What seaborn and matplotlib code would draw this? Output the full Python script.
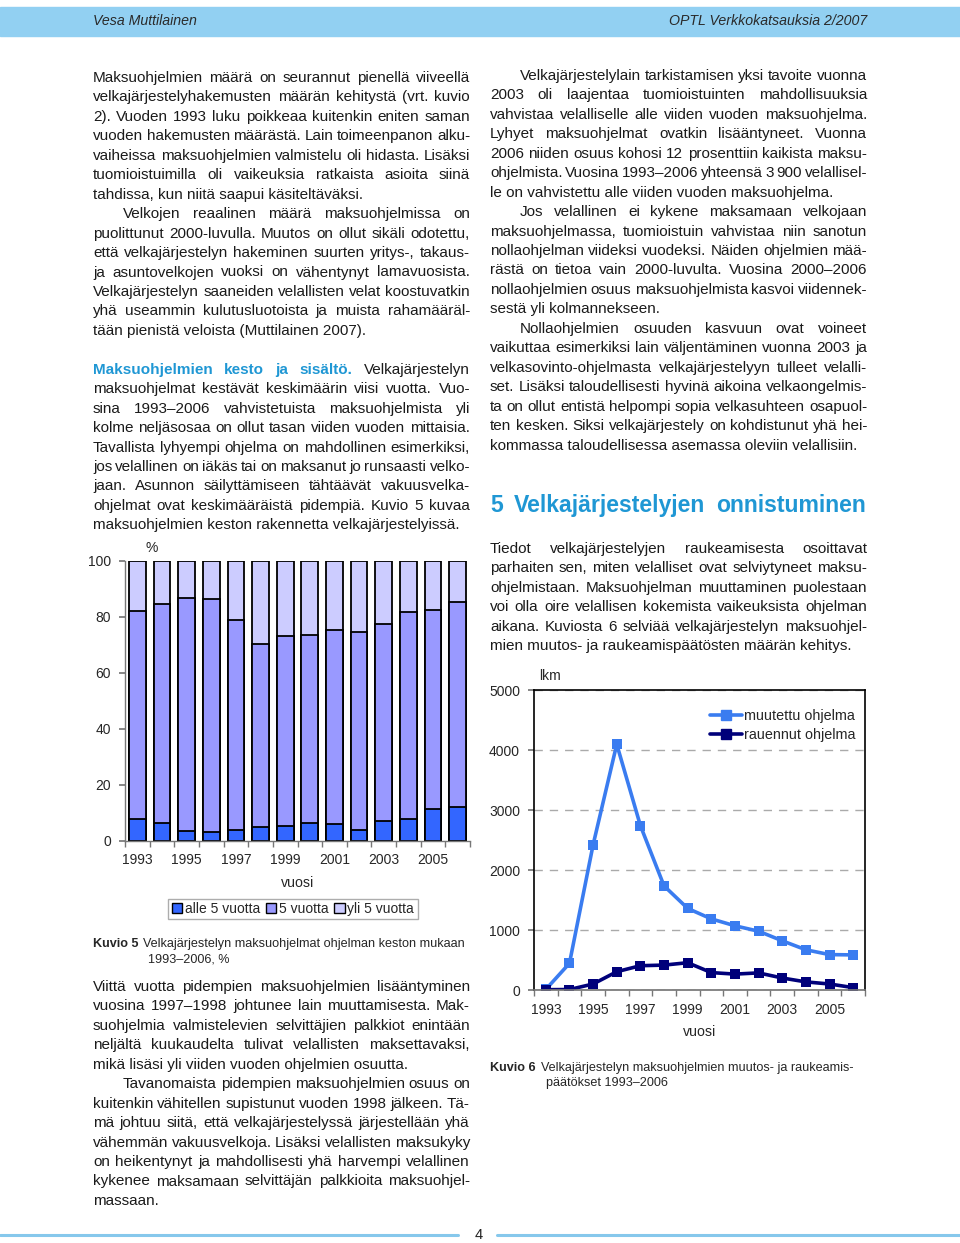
import numpy as np
import pandas as pd
import seaborn as sns
import matplotlib.pyplot as plt
from matplotlib.patches import Rectangle, Patch
from matplotlib.lines import Line2D

# Kuvio 5: maksuohjelmien kesto, % (luettu kuvasta)
years = [str(y) for y in range(1993, 2007)]
alle5 = [7.7, 6.3, 3.7, 3.1, 3.8, 5.1, 5.5, 6.3, 6.1, 3.8, 7.0, 7.8, 11.4, 12.0]
viisi = [74.2, 78.2, 82.9, 83.2, 75.2, 65.1, 67.7, 67.2, 69.0, 70.9, 70.5, 73.8, 71.0, 73.1]
yli5 = [18.1, 15.5, 13.4, 13.7, 21.0, 29.8, 26.8, 26.5, 24.9, 25.3, 22.5, 18.4, 17.6, 14.9]
bar_labels = ['alle 5 vuotta', '5 vuotta', 'yli 5 vuotta']

# Kuvio 6: muutetut ja rauenneet ohjelmat, lkm
line_years = list(range(1993, 2007))
muutettu = [10, 445, 2420, 4095, 2740, 1735, 1360, 1185, 1070, 980, 820, 670, 590, 585]
rauennut = [5, 8, 100, 305, 405, 415, 455, 290, 265, 285, 200, 135, 100, 40]
line_labels = ['muutettu ohjelma', 'rauennut ohjelma']

left_par1 = ["Maksuohjelmien määrä on seurannut pienellä viiveellä",
             "velkajärjestelyhakemusten määrän kehitystä (vrt. kuvio",
             "2). Vuoden 1993 luku poikkeaa kuitenkin eniten saman",
             "vuoden hakemusten määrästä. Lain toimeenpanon alku-",
             "vaiheissa maksuohjelmien valmistelu oli hidasta. Lisäksi",
             "tuomioistuimilla oli vaikeuksia ratkaista asioita siinä",
             "tahdissa, kun niitä saapui käsiteltäväksi."]
left_par2 = ["Velkojen reaalinen määrä maksuohjelmissa on",
             "puolittunut 2000-luvulla. Muutos on ollut sikäli odotettu,",
             "että velkajärjestelyn hakeminen suurten yritys-, takaus-",
             "ja asuntovelkojen vuoksi on vähentynyt lamavuosista.",
             "Velkajärjestelyn saaneiden velallisten velat koostuvatkin",
             "yhä useammin kulutusluotoista ja muista rahamääräl-",
             "tään pienistä veloista (Muttilainen 2007)."]
left_par3 = ["Maksuohjelmien kesto ja sisältö. Velkajärjestelyn",
             "maksuohjelmat kestävät keskimäärin viisi vuotta. Vuo-",
             "sina 1993–2006 vahvistetuista maksuohjelmista yli",
             "kolme neljäsosaa on ollut tasan viiden vuoden mittaisia.",
             "Tavallista lyhyempi ohjelma on mahdollinen esimerkiksi,",
             "jos velallinen on iäkäs tai on maksanut jo runsaasti velko-",
             "jaan. Asunnon säilyttämiseen tähtäävät vakuusvelka-",
             "ohjelmat ovat keskimääräistä pidempiä. Kuvio 5 kuvaa",
             "maksuohjelmien keston rakennetta velkajärjestelyissä."]
left_par4 = ["Viittä vuotta pidempien maksuohjelmien lisääntyminen",
             "vuosina 1997–1998 johtunee lain muuttamisesta. Mak-",
             "suohjelmia valmistelevien selvittäjien palkkiot enintään",
             "neljältä kuukaudelta tulivat velallisten maksettavaksi,",
             "mikä lisäsi yli viiden vuoden ohjelmien osuutta."]
left_par5 = ["Tavanomaista pidempien maksuohjelmien osuus on",
             "kuitenkin vähitellen supistunut vuoden 1998 jälkeen. Tä-",
             "mä johtuu siitä, että velkajärjestelyssä järjestellään yhä",
             "vähemmän vakuusvelkoja. Lisäksi velallisten maksukyky",
             "on heikentynyt ja mahdollisesti yhä harvempi velallinen",
             "kykenee maksamaan selvittäjän palkkioita maksuohjel-",
             "massaan."]
right_par1 = ["Velkajärjestelylain tarkistamisen yksi tavoite vuonna",
              "2003 oli laajentaa tuomioistuinten mahdollisuuksia",
              "vahvistaa velalliselle alle viiden vuoden maksuohjelma.",
              "Lyhyet maksuohjelmat ovatkin lisääntyneet. Vuonna",
              "2006 niiden osuus kohosi 12 prosenttiin kaikista maksu-",
              "ohjelmista. Vuosina 1993–2006 yhteensä 3 900 velallisel-",
              "le on vahvistettu alle viiden vuoden maksuohjelma."]
right_par2 = ["Jos velallinen ei kykene maksamaan velkojaan",
              "maksuohjelmassa, tuomioistuin vahvistaa niin sanotun",
              "nollaohjelman viideksi vuodeksi. Näiden ohjelmien mää-",
              "rästä on tietoa vain 2000-luvulta. Vuosina 2000–2006",
              "nollaohjelmien osuus maksuohjelmista kasvoi viidennek-",
              "sestä yli kolmannekseen."]
right_par3 = ["Nollaohjelmien osuuden kasvuun ovat voineet",
              "vaikuttaa esimerkiksi lain väljentäminen vuonna 2003 ja",
              "velkasovinto-ohjelmasta velkajärjestelyyn tulleet velalli-",
              "set. Lisäksi taloudellisesti hyvinä aikoina velkaongelmis-",
              "ta on ollut entistä helpompi sopia velkasuhteen osapuol-",
              "ten kesken. Siksi velkajärjestely on kohdistunut yhä hei-",
              "kommassa taloudellisessa asemassa oleviin velallisiin."]
right_par4 = ["Tiedot velkajärjestelyjen raukeamisesta osoittavat",
              "parhaiten sen, miten velalliset ovat selviytyneet maksu-",
              "ohjelmistaan. Maksuohjelman muuttaminen puolestaan",
              "voi olla oire velallisen kokemista vaikeuksista ohjelman",
              "aikana. Kuviosta 6 selviää velkajärjestelyn maksuohjel-",
              "mien muutos- ja raukeamispäätösten määrän kehitys."]

W, H = 960, 1243
BLUE_HEAD = '#1f97d4'
TEXT_C = '#1a1a1a'
BODY = 10.95

sns.set_theme(style='white')
plt.rcParams['font.family'] = ['Liberation Sans', 'DejaVu Sans']

fig = plt.figure(figsize=(W / 100, H / 100), dpi=100)
renderer = fig.canvas.get_renderer()


def fx(x):
    return x / W


def fy(y):
    return 1 - y / H


def put_line(x0, x1, y, line, justify, bold_prefix=0, size=BODY, weight='normal', color=TEXT_C):
    words = line.split(' ')
    if not justify and bold_prefix == 0:
        fig.text(fx(x0), fy(y), line, fontsize=size, color=color, weight=weight, va='baseline')
        return
    texts = []
    for i, w in enumerate(words):
        wt, c = ('bold', BLUE_HEAD) if i < bold_prefix else (weight, color)
        texts.append(fig.text(0, fy(y), w, fontsize=size, weight=wt, color=c, va='baseline'))
    widths = [t.get_window_extent(renderer).width for t in texts]
    if justify:
        gap = max((x1 - x0 - sum(widths)) / (len(words) - 1), 1.5)
    else:
        gap = size * 100 / 72 * 0.28
    x = x0
    for t, wd in zip(texts, widths):
        t.set_x(fx(x))
        x += wd + gap


def put_par(lines, x0, x1, y0, indent=False, bold_prefix=0, step=19.45):
    for i, line in enumerate(lines):
        xs = x0 + (30 if (indent and i == 0) else 0)
        put_line(xs, x1, y0 + i * step + 5, line, justify=(i < len(lines) - 1),
                 bold_prefix=bold_prefix if i == 0 else 0)


# header band
fig.patches.append(Rectangle((0, fy(36)), 1, 29 / H, transform=fig.transFigure,
                             color='#92d0f2', zorder=0))
fig.text(fx(93), fy(21), 'Vesa Muttilainen', fontsize=10.2, style='italic',
         color='#2a2a2a', va='center')
fig.text(fx(867), fy(21), 'OPTL Verkkokatsauksia 2/2007', fontsize=10.2, style='italic',
         color='#2a2a2a', va='center', ha='right')

# body text
step = 19.45
put_par(left_par1, 93, 470, 77)
put_par(left_par2, 93, 470, 77 + 7 * step, indent=True)
put_par(left_par3, 93, 470, 77 + 15 * step, bold_prefix=4)
put_par(left_par4, 93, 470, 986)
put_par(left_par5, 93, 470, 986 + 5 * step, indent=True)
put_par(right_par1, 490, 867, 75, indent=True)
put_par(right_par2, 490, 867, 75 + 7 * step, indent=True)
put_par(right_par3, 490, 867, 75 + 13 * step, indent=True)
put_par(right_par4, 490, 867, 548)

# section heading
put_line(490, 866, 512, '5 Velkajärjestelyjen onnistuminen', justify=True,
         size=16.6, weight='bold', color=BLUE_HEAD)

# ---------- Kuvio 5 ----------
ax1 = fig.add_axes([fx(125), fy(841), 345 / W, 280.3 / H])
cum_mid = [a + b for a, b in zip(alle5, viisi)]
total = [a + b + c for a, b, c in zip(alle5, viisi, yli5)]
bar_cols = ['#3366ff', '#9999ff', '#ccccff']
for vals, col in zip([total, cum_mid, alle5], bar_cols[::-1]):
    sns.barplot(x=years, y=vals, color=col, edgecolor='black', linewidth=1.3,
                width=0.68, saturation=1, ax=ax1)
ax1.set_ylim(0, 100)
ax1.set_xlim(-0.5, 13.5)
ax1.set_yticks(range(0, 101, 20))
ax1.set_xticks(range(0, 14, 2))
ax1.set_xticklabels(years[::2])
ax1.set_xticks(np.arange(-0.5, 14, 1), minor=True)
ax1.tick_params(axis='x', which='major', length=0, pad=9, labelsize=10)
ax1.tick_params(axis='x', which='minor', length=4, color='#777777', bottom=True)
ax1.tick_params(axis='y', length=4, color='#777777', left=True, pad=6, labelsize=10)
for s in ['top', 'right']:
    ax1.spines[s].set_visible(False)
for s in ['left', 'bottom']:
    ax1.spines[s].set_color('#777777')
    ax1.spines[s].set_linewidth(1)
ax1.set_xlabel('vuosi', fontsize=10.2, labelpad=6)
ax1.set_ylabel('')
ax1.text(0.058, 1.045, '%', transform=ax1.transAxes, fontsize=10, va='center')
handles = [Patch(facecolor=c, edgecolor='black', linewidth=1) for c in bar_cols]
fig.legend(handles, bar_labels, loc='center', bbox_to_anchor=(fx(293), fy(909)),
           ncol=3, fontsize=10, frameon=True, fancybox=False, edgecolor='#999999',
           handlelength=0.75, handleheight=0.75, handletextpad=0.2, columnspacing=0.4,
           borderpad=0.25, borderaxespad=0)
fig.text(fx(93), fy(947), 'Kuvio 5', fontsize=9.1, weight='bold', va='baseline')
fig.text(fx(143), fy(947), 'Velkajärjestelyn maksuohjelmat ohjelman keston mukaan',
         fontsize=9.1, va='baseline')
fig.text(fx(148), fy(962), '1993–2006, %', fontsize=9.1, va='baseline')

# ---------- Kuvio 6 ----------
ax2 = fig.add_axes([fx(534), fy(990), 331 / W, 300 / H])
df = pd.DataFrame({'vuosi': line_years * 2,
                   'lkm': muutettu + rauennut,
                   'sarja': [line_labels[0]] * 14 + [line_labels[1]] * 14})
line_cols = ['#3a7cf0', '#00007a']
sns.lineplot(data=df, x='vuosi', y='lkm', hue='sarja', palette=line_cols,
             marker='s', markersize=7, markeredgewidth=0, linewidth=2.6, ax=ax2)
ax2.set_xlim(1992.5, 2006.5)
ax2.set_ylim(0, 5000)
ax2.set_yticks(range(0, 5001, 1000))
ax2.set_xticks(range(1993, 2006, 2))
ax2.set_xticks(np.arange(1992.5, 2007, 1), minor=True)
ax2.tick_params(axis='x', which='major', length=0, pad=9, labelsize=10)
ax2.tick_params(axis='x', which='minor', length=4, color='#777777', bottom=True)
ax2.tick_params(axis='y', length=4, color='#777777', left=True, pad=6, labelsize=10)
ax2.grid(axis='y', linestyle=(0, (6, 5)), color='#aaaaaa', linewidth=1)
ax2.set_axisbelow(True)
for s in ['top', 'left', 'right']:
    ax2.spines[s].set_color('black')
    ax2.spines[s].set_linewidth(1.2)
ax2.spines['bottom'].set_color('#777777')
ax2.set_xlabel('vuosi', fontsize=10.2, labelpad=6)
ax2.set_ylabel('')
ax2.text(0.015, 1.045, 'lkm', transform=ax2.transAxes, fontsize=10, va='center')
lh = [Line2D([], [], color=c, marker='s', markersize=7, linewidth=2.6) for c in line_cols]
ax2.legend(lh, line_labels, loc='upper right', bbox_to_anchor=(0.99, 0.955), frameon=False,
           fontsize=10.4, handlelength=2.2, handletextpad=0.15, labelspacing=0.3,
           borderaxespad=0)
fig.text(fx(490), fy(1071), 'Kuvio 6', fontsize=9.1, weight='bold', va='baseline')
fig.text(fx(541), fy(1071), 'Velkajärjestelyn maksuohjelmien muutos- ja raukeamis-',
         fontsize=9.1, va='baseline')
fig.text(fx(546), fy(1086), 'päätökset 1993–2006', fontsize=9.1, va='baseline')

# footer
fig.lines.append(Line2D([0, fx(458)], [fy(1235)] * 2, transform=fig.transFigure,
                        color='#86c8ec', linewidth=2.2))
fig.lines.append(Line2D([fx(497), 1], [fy(1235)] * 2, transform=fig.transFigure,
                        color='#86c8ec', linewidth=2.2))
fig.text(fx(479), fy(1235), '4', fontsize=10.5, ha='center', va='center', color='#222222')

fig.savefig('out.png', dpi=100)
